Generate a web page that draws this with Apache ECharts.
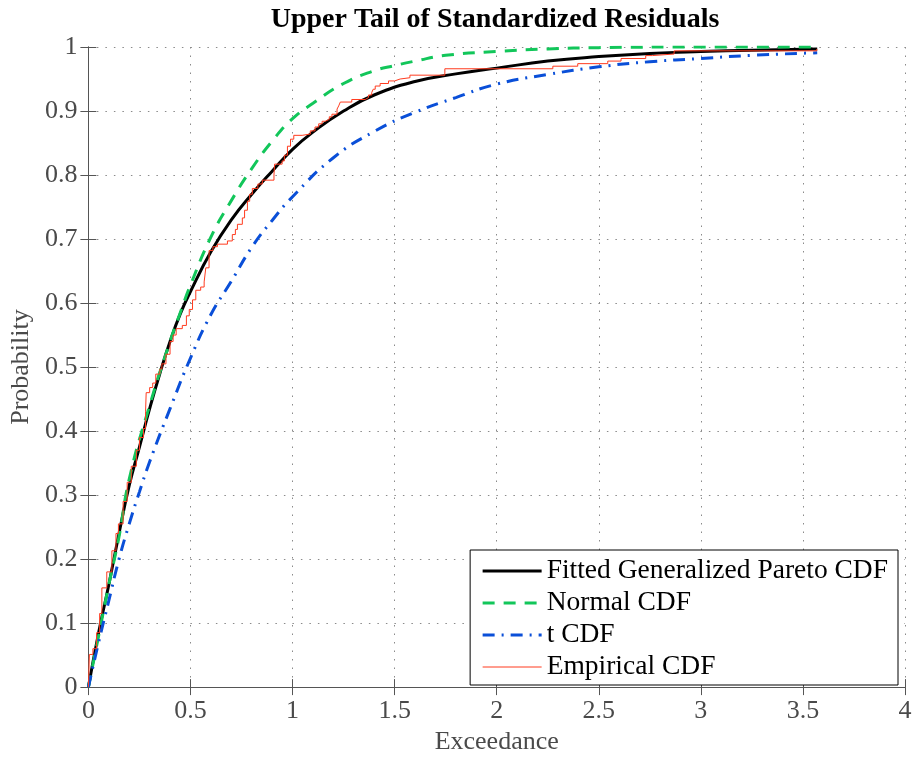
<!DOCTYPE html>
<html>
<head>
<meta charset="utf-8">
<script src="https://cdn.jsdelivr.net/npm/echarts@6/dist/echarts.min.js"></script>
<style>html,body{margin:0;padding:0;background:#fff}#c{width:915px;height:760px}</style>
</head>
<body>
<div id="c"></div>
<script>
// ---- data ----
const titleText = 'Upper Tail of Standardized Residuals';
const xName = 'Exceedance';
const yName = 'Probability';
const xTickLabels = ['0','0.5','1','1.5','2','2.5','3','3.5','4'];
const yTickLabels = ['0','0.1','0.2','0.3','0.4','0.5','0.6','0.7','0.8','0.9','1'];
const seriesNames = ['Fitted Generalized Pareto CDF','Normal CDF','t CDF','Empirical CDF'];

const gpCdf = [[0,0],[0.05,0.085],[0.1,0.16],[0.15,0.24],[0.2,0.315],[0.25,0.375],[0.3,0.435],[0.35,0.49],[0.4,0.54],[0.45,0.583],[0.5,0.618],[0.6,0.68],[0.7,0.73],[0.8,0.77],[0.9,0.806],[1.0,0.84],[1.1,0.867],[1.25,0.9],[1.4,0.925],[1.6,0.946],[1.8,0.958],[2.0,0.967],[2.25,0.978],[2.5,0.985],[2.75,0.99],[3.0,0.993],[3.25,0.995],[3.57,0.997]];

const normalCdf = [[0,0],[0.05,0.08],[0.1,0.16],[0.15,0.235],[0.2,0.325],[0.3,0.44],[0.4,0.54],[0.45,0.585],[0.5,0.628],[0.6,0.703],[0.7,0.76],[0.8,0.81],[0.9,0.853],[1.0,0.888],[1.1,0.912],[1.25,0.943],[1.4,0.963],[1.5,0.971],[1.6,0.978],[1.75,0.987],[2.0,0.993],[2.25,0.997],[2.5,0.999],[3.0,1.0],[3.57,1.0]];

const tCdf = [[0,0],[0.05,0.07],[0.1,0.135],[0.15,0.2],[0.2,0.255],[0.25,0.305],[0.3,0.352],[0.4,0.435],[0.5,0.514],[0.6,0.582],[0.7,0.634],[0.8,0.687],[0.9,0.729],[1.0,0.766],[1.2,0.827],[1.4,0.868],[1.6,0.898],[1.8,0.921],[2.0,0.942],[2.25,0.957],[2.5,0.969],[2.75,0.977],[3.0,0.982],[3.25,0.987],[3.57,0.991]];

const empiricalCdf = [[0,0],[0.005,0.051],[0.022,0.06],[0.04,0.085],[0.055,0.115],[0.066,0.155],[0.09,0.18],[0.115,0.213],[0.135,0.24],[0.147,0.255],[0.17,0.29],[0.19,0.32],[0.21,0.345],[0.235,0.37],[0.25,0.39],[0.27,0.404],[0.28,0.43],[0.283,0.46],[0.3,0.468],[0.315,0.475],[0.33,0.489],[0.35,0.497],[0.36,0.505],[0.38,0.52],[0.4,0.54],[0.415,0.55],[0.43,0.56],[0.46,0.565],[0.48,0.58],[0.494,0.59],[0.51,0.605],[0.526,0.62],[0.55,0.625],[0.567,0.633],[0.575,0.655],[0.591,0.682],[0.61,0.688],[0.632,0.692],[0.681,0.697],[0.705,0.707],[0.72,0.715],[0.73,0.723],[0.754,0.733],[0.765,0.745],[0.779,0.759],[0.79,0.77],[0.803,0.779],[0.83,0.786],[0.852,0.792],[0.909,0.80],[0.912,0.817],[0.949,0.822],[0.96,0.831],[0.975,0.845],[0.99,0.856],[1.006,0.862],[1.047,0.864],[1.087,0.869],[1.11,0.875],[1.128,0.88],[1.145,0.884],[1.16,0.887],[1.18,0.891],[1.193,0.895],[1.218,0.903],[1.226,0.908],[1.234,0.914],[1.29,0.918],[1.356,0.921],[1.372,0.925],[1.388,0.929],[1.395,0.934],[1.405,0.939],[1.429,0.943],[1.47,0.947],[1.5,0.95],[1.527,0.952],[1.575,0.956],[1.746,0.966],[2.275,0.97],[2.397,0.974],[2.544,0.978],[2.609,0.982],[2.73,0.9866],[2.763,0.989],[2.869,0.994],[3.568,0.997]];

// ---- chart ----
const FONT = 'Liberation Serif';
const AX = '#555555';
const LBL = '#4a4a4a';
const COLORS = ['#000000', '#12c65a', '#0a4fd8', '#ff3b1f'];
const WIDTHS = [3, 3, 3, 1];
const DASHES = ['solid', [12, 9], [12, 7, 2, 7], 'solid'];
const chart = echarts.init(document.getElementById('c'), null, {renderer: 'canvas'});

function xFmt(v){ const i = Math.round(v / 0.5); return xTickLabels[i] !== undefined ? xTickLabels[i] : ''; }
function yFmt(v){ const i = Math.round(v / 0.1); return yTickLabels[i] !== undefined ? yTickLabels[i] : ''; }

const baseAxis = {
  type: 'value',
  axisLine: {show: true, lineStyle: {color: AX, width: 1}},
  axisTick: {show: true, inside: true, length: 8, lineStyle: {color: AX, width: 1}},
};

const datasets = [gpCdf, normalCdf, tCdf, empiricalCdf];

chart.setOption({
  animation: false,
  backgroundColor: '#ffffff',
  graphic: [{
    type: 'text', x: 495, y: 6,
    style: {text: titleText, font: 'bold 28px "' + FONT + '"', fill: '#000', textAlign: 'center', textVerticalAlign: 'top'}
  }],
  grid: {left: 85, right: 10, top: 47, bottom: 65, containLabel: false},
  legend: {
    orient: 'vertical', right: 17, bottom: 75,
    data: seriesNames.map((n, i) => ({name: n, lineStyle: {width: WIDTHS[i], color: COLORS[i], type: DASHES[i]}})),
    backgroundColor: '#ffffff', borderColor: '#000', borderWidth: 1,
    padding: [7, 10, 4, 11],
    itemWidth: 59, itemHeight: 14, itemGap: 4,
    itemStyle: {opacity: 0},
    textStyle: {fontFamily: FONT, fontSize: 27.5, color: '#000', lineHeight: 28},
    selectedMode: false
  },
  xAxis: [
    Object.assign({}, baseAxis, {
      position: 'bottom', min: 0, max: 4, interval: 0.5,
      name: xName, nameLocation: 'middle', nameGap: 40,
      nameTextStyle: {fontFamily: FONT, fontSize: 26, color: LBL},
      axisLabel: {show: true, margin: 11, formatter: xFmt, fontFamily: FONT, fontSize: 26, color: LBL},
      splitLine: {show: true, lineStyle: {color: '#8a8a8a', width: 1, type: [1.5, 7]}}
    }),
    Object.assign({}, baseAxis, {
      position: 'top', min: 0, max: 4, interval: 0.5,
      axisLabel: {show: false}, splitLine: {show: false}
    })
  ],
  yAxis: [
    Object.assign({}, baseAxis, {
      position: 'left', min: 0, max: 1, interval: 0.1,
      name: yName, nameLocation: 'middle', nameGap: 49,
      nameTextStyle: {fontFamily: FONT, fontSize: 26, color: LBL},
      axisLabel: {show: true, margin: 11, formatter: yFmt, fontFamily: FONT, fontSize: 26, color: LBL},
      splitLine: {show: true, lineStyle: {color: '#8a8a8a', width: 1, type: [1.5, 7]}}
    }),
    Object.assign({}, baseAxis, {
      position: 'right', min: 0, max: 1, interval: 0.1,
      axisLabel: {show: false}, splitLine: {show: false}
    })
  ],
  series: seriesNames.map((n, i) => Object.assign({
    name: n, type: 'line', data: datasets[i], showSymbol: false, symbol: 'none',
    lineStyle: {color: COLORS[i], width: WIDTHS[i], type: DASHES[i]},
    itemStyle: {color: COLORS[i]}
  }, i === 3 ? {step: 'end'} : {smooth: 0.5}))
});
</script>
</body>
</html>
